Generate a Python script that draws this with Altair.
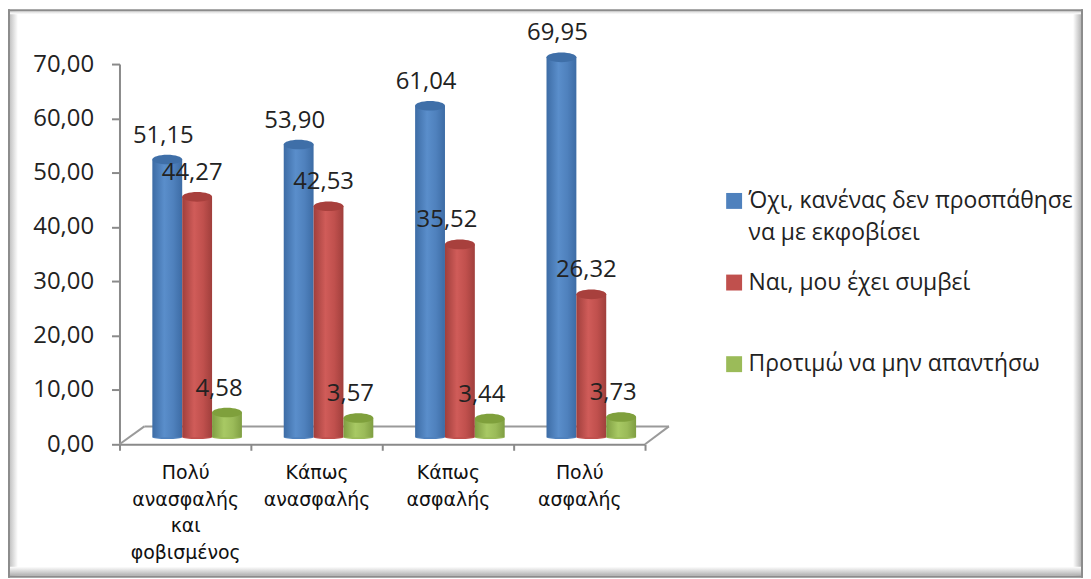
import altair as alt
import pandas as pd

categories = ["Πολύ|ανασφαλής|και|φοβισμένος", "Κάπως|ανασφαλής", "Κάπως|ασφαλής", "Πολύ|ασφαλής"]
series = ["Όχι, κανένας δεν προσπάθησε|να με εκφοβίσει", "Ναι, μου έχει συμβεί", "Προτιμώ να μην απαντήσω"]
blue_values = [51.15, 53.90, 61.04, 69.95]
red_values = [44.27, 42.53, 35.52, 26.32]
green_values = [4.58, 3.57, 3.44, 3.73]
colors = ["#4f81bd", "#c0504d", "#9bbb59"]
edge_colors = ["#3d6ca5", "#a03f3c", "#7f9e42"]
light_colors = ["#5a8ecb", "#d05c59", "#a8c964"]
cap_colors = ["#3f6fa8", "#a8403d", "#7fa03c"]
label_dx = [-4, -5, -8]

df = pd.DataFrame(
    [
        {"cat": c, "series": s, "value": v, "si": i}
        for i, (s, vals) in enumerate(zip(series, [blue_values, red_values, green_values]))
        for c, v in zip(categories, vals)
    ]
)

FONT = "Open Sans"
ELLIPSE = "M-1,0 A1,0.32 0 1,1 1,0 A1,0.32 0 1,1 -1,0 Z"
BASE_ELLIPSE = "M-1,0 A1,0.12 0 1,1 1,0 A1,0.12 0 1,1 -1,0 Z"
Y_SHIFT = -7

x_enc = alt.X(
    "cat:N",
    sort=categories,
    title=None,
    scale=alt.Scale(domain=categories, paddingInner=0, paddingOuter=0),
    axis=alt.Axis(
        labelExpr="split(datum.label,'|')",
        labelAngle=0,
        labelFont="DejaVu Sans",
        labelFontSize=19,
        labelColor="#111111",
        labelLineHeight=27,
        labelPadding=13,
        labelBaseline="top",
        tickBand="extent",
        tickSize=6,
        tickWidth=2,
        domainWidth=2,
        tickColor="#8a8a8a",
        domainColor="#8a8a8a",
        grid=False,
    ),
)
xo_enc = alt.XOffset(
    "series:N", sort=series,
    scale=alt.Scale(domain=series, paddingInner=0, paddingOuter=0.7, align=0.786),
)
y_enc = alt.Y(
    "value:Q",
    title=None,
    scale=alt.Scale(domain=[0, 70], nice=False, zero=True),
    axis=alt.Axis(
        values=[0, 10, 20, 30, 40, 50, 60, 70],
        labelExpr="replace(format(datum.value,'.2f'),'.',',')",
        labelFont=FONT,
        labelFontSize=24,
        labelColor="#222222",
        labelPadding=18,
        tickSize=8,
        tickWidth=2,
        domainWidth=2,
        tickColor="#8a8a8a",
        domainColor="#8a8a8a",
        grid=False,
    ),
)


def strip(x, x2, y, y2, grad):
    return alt.Chart(df.head(1)).mark_rect(color=grad).encode(
        x=alt.value(x), x2=alt.value(x2), y=alt.value(y), y2=alt.value(y2)
    )


def grad(x1, y1, x2, y2, c0, c1):
    return alt.Gradient(
        gradient="linear", x1=x1, y1=y1, x2=x2, y2=y2,
        stops=[alt.GradientStop(offset=0, color=c0), alt.GradientStop(offset=1, color=c1)],
    )


# frame (view-relative pixels; view origin sits at page 120,63)
frame = [
    strip(-110, -102, -53, 514, grad(0, 0, 1, 0, "#c4c4c4", "#ffffff")),
    strip(958, 966, -53, 514, grad(0, 0, 1, 0, "#ffffff", "#b8b8b8")),
    strip(-110, 966, 505, 514, grad(0, 0, 0, 1, "#ffffff", "#b0b0b0")),
    strip(-110, 966, -53, -50, grad(0, 0, 0, 1, "#d8d8d8", "#ffffff")),
    strip(-112, 968, -55, -53, grad(0, 0, 0, 1, "#8c8c8c", "#8c8c8c")),
    strip(-112, -110, -55, 516, grad(0, 0, 0, 1, "#8c8c8c", "#8c8c8c")),
    strip(966, 968, -55, 516, grad(0, 0, 0, 1, "#8c8c8c", "#8c8c8c")),
    strip(-112, 968, 514, 516, grad(0, 0, 0, 1, "#8c8c8c", "#8c8c8c")),
]


def floor_line(x, x2, y, y2):
    return alt.Chart(df.head(1)).mark_rule(color="#9a9a9a", strokeWidth=2).encode(
        x=alt.value(x), x2=alt.value(x2), y=alt.value(y), y2=alt.value(y2)
    )


floor = [
    floor_line(0, 25, 382, 364),
    floor_line(25, 552, 364, 364),
    floor_line(528, 552, 382, 364),
]

base_ellipses = (
    alt.Chart(df.assign(zero=0))
    .mark_point(shape=BASE_ELLIPSE, filled=True, size=900, opacity=1, yOffset=Y_SHIFT)
    .encode(
        x=x_enc,
        xOffset=xo_enc,
        y=alt.Y("zero:Q", scale=alt.Scale(domain=[0, 70], nice=False)),
        color=alt.Color(
            "series:N",
            sort=series,
            scale=alt.Scale(domain=series, range=colors),
            legend=alt.Legend(
                title=None,
                orient="none",
                legendX=606,
                legendY=126,
                symbolType="square",
                symbolSize=256,
                symbolStrokeWidth=0,
                symbolOpacity=1,
                labelFont=FONT,
                labelFontSize=23,
                labelColor="#222222",
                labelLimit=400,
                labelExpr="split(indexof(datum.label,'|')<0 ? datum.label+'|' : datum.label,'|')",
                labelOffset=3,
                rowPadding=26,
            ),
        ),
    )
)

layers = frame + floor + [base_ellipses]

for i, s in enumerate(series):
    d = df[df.si == i]
    bar_grad = alt.Gradient(
        gradient="linear", x1=0, y1=0, x2=1, y2=0,
        stops=[
            alt.GradientStop(offset=0, color=edge_colors[i]),
            alt.GradientStop(offset=0.4, color=light_colors[i]),
            alt.GradientStop(offset=0.7, color=colors[i]),
            alt.GradientStop(offset=1, color=edge_colors[i]),
        ],
    )
    layers.append(
        alt.Chart(d)
        .mark_bar(color=bar_grad, yOffset=Y_SHIFT, y2Offset=Y_SHIFT)
        .encode(x=x_enc, xOffset=xo_enc, y=y_enc)
    )
    layers.append(
        alt.Chart(d)
        .mark_point(shape=ELLIPSE, filled=True, size=900, opacity=1, color=cap_colors[i], yOffset=Y_SHIFT)
        .encode(x=x_enc, xOffset=xo_enc, y=y_enc)
    )

for i, s in enumerate(series):
    d = df[df.si == i]
    outlier = (d.cat == categories[2]) & (i == 1)
    for sub, dx in ((d[~outlier], label_dx[i]), (d[outlier], -13)):
        if len(sub) == 0:
            continue
        layers.append(
            alt.Chart(sub)
            .transform_calculate(lab="replace(format(datum.value,'.2f'),'.',',')")
            .mark_text(font=FONT, fontSize=24, color="#222222", dx=dx, dy=-31, baseline="middle")
            .encode(x=x_enc, xOffset=xo_enc, y=y_enc, text="lab:N")
        )

chart = (
    alt.layer(*layers)
    .properties(
        width=528,
        height=382,
        autosize=alt.AutoSizeParams(type="none"),
        padding={"left": 112, "top": 55, "right": 440, "bottom": 133},
        background="white",
    )
    .configure_view(stroke=None)
)
chart.config.style = {"guide-label": {"lineHeight": 32}}

chart.save("out.html", embed_options={"renderer": "svg", "actions": False})
